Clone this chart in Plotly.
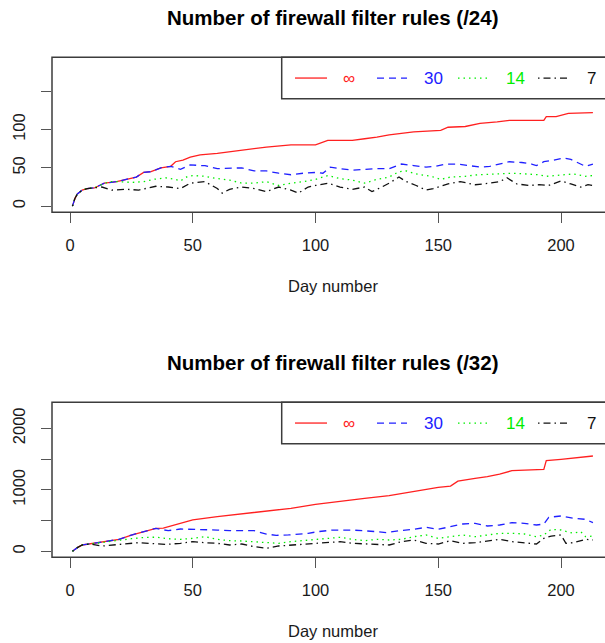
import plotly.graph_objects as go

# ---- data (day number, rule count) ----
# /24 filter rules
days24_inf = [1, 2, 3, 5, 7, 10, 12, 14, 19, 23, 27, 30, 33, 37, 41, 43, 46, 49, 53, 60, 70, 80, 90, 100, 105,
              115, 120, 125, 130, 135, 140, 151, 154, 161, 167, 174, 179, 193, 194, 198, 203, 213]
rules24_inf = [0, 10, 16, 21, 23, 24, 27, 30, 32, 35, 38, 44, 45, 50, 52, 58, 60, 64, 67, 69, 73, 77, 80, 80, 86,
               86, 88, 90, 93, 95, 97, 99, 103, 104, 108, 110, 112, 112, 117, 117, 121, 122]

days24_30 = [1, 2, 3, 5, 7, 10, 12, 14, 19, 23, 27, 30, 33, 37, 41, 45, 49, 53, 55, 60, 70, 75, 80, 85, 90, 95,
             100, 103, 106, 110, 115, 120, 125, 130, 135, 140, 145, 149, 153, 158, 163, 167, 171, 175, 179, 184,
             188, 190, 193, 197, 201, 204, 208, 210, 213]
rules24_30 = [0, 10, 16, 21, 23, 24, 27, 30, 32, 35, 38, 44, 45, 50, 52, 48, 54, 53, 53, 49, 50, 46, 46, 43, 41, 43,
              44, 43, 51, 49, 47, 48, 49, 49, 55, 53, 51, 52, 55, 55, 53, 51, 52, 55, 58, 57,
              55, 53, 58, 60, 63, 61, 55, 52, 55]

days24_14 = [1, 2, 3, 5, 7, 10, 12, 14, 16, 20, 25, 30, 34, 39, 43, 45, 48, 50, 55, 60, 65, 70, 75, 80, 85, 90,
             95, 100, 105, 110, 115, 120, 125, 130, 134, 137, 141, 147, 151, 155, 161, 166, 172, 176, 180, 186,
             191, 194, 200, 205, 210, 213]
rules24_14 = [0, 10, 16, 21, 23, 24, 27, 30, 32, 32, 31, 32, 35, 37, 35, 33, 39, 40, 39, 36, 34, 30, 30, 32, 27, 30,
              32, 35, 40, 36, 34, 30, 35, 38, 45, 46, 42, 39, 35, 38, 39, 41, 42, 42, 43, 42,
              41, 39, 41, 42, 39, 40]

days24_7 = [1, 2, 3, 5, 7, 10, 13, 17, 23, 28, 35, 40, 45, 49, 53, 55, 60, 62, 65, 70, 75, 80, 85, 90, 93, 97,
            100, 105, 110, 115, 120, 123, 127, 130, 134, 137, 141, 145, 148, 154, 159, 165, 171, 175, 178, 182,
            187, 191, 195, 200, 204, 208, 211, 213]
rules24_7 = [0, 10, 16, 21, 23, 24, 25, 21, 22, 21, 26, 25, 23, 30, 31, 32, 23, 17, 22, 25, 23, 19, 25, 21, 17, 25,
             27, 30, 25, 22, 25, 19, 25, 30, 38, 32, 27, 21, 23, 29, 32, 28, 30, 32, 37, 29,
             27, 28, 27, 33, 29, 25, 28, 27]

# /32 filter rules
days32_inf = [1, 3, 5, 10, 15, 20, 25, 30, 35, 38, 40, 45, 50, 60, 70, 80, 90, 100, 110, 120, 130, 140, 150,
              155, 158, 165, 170, 175, 180, 193, 194, 200, 213]
rules32_inf = [0, 60, 103, 130, 157, 195, 265, 320, 374, 378, 401, 455, 510, 564, 607, 656, 700, 764, 818, 862,
               905, 970, 1040, 1060, 1140, 1187, 1214, 1257, 1311, 1333, 1474, 1496, 1550]

days32_30 = [1, 3, 5, 10, 15, 20, 25, 30, 35, 38, 40, 45, 50, 55, 60, 65, 70, 75, 80, 84, 89, 97, 101, 107, 115,
             120, 125, 129, 134, 140, 145, 150, 155, 160, 165, 170, 175, 180, 185, 190, 193, 195, 200, 205,
             210, 213]
rules32_30 = [0, 60, 103, 130, 157, 195, 265, 320, 374, 350, 336, 363, 360, 346, 346, 336, 340, 336, 280, 260, 266,
              293, 320, 346, 346, 336, 320, 304, 336, 358, 390, 358, 401, 444, 455, 412, 428, 466, 455, 428,
              444, 553, 575, 537, 520, 466]

days32_14 = [1, 3, 5, 10, 15, 20, 25, 30, 35, 40, 45, 50, 55, 60, 65, 70, 75, 80, 85, 90, 95, 100, 105, 110, 115,
             120, 125, 130, 135, 140, 145, 150, 155, 160, 165, 170, 175, 180, 185, 190, 193, 196, 200, 205,
             208, 210, 213]
rules32_14 = [0, 60, 103, 130, 157, 185, 205, 225, 230, 205, 195, 211, 238, 195, 173, 168, 157, 141, 130, 157, 173,
              195, 211, 228, 195, 173, 195, 184, 195, 238, 266, 211, 238, 266, 238, 266, 293, 293, 282, 238,
              266, 358, 347, 293, 320, 238, 249]

days32_7 = [1, 3, 5, 8, 13, 20, 28, 34, 39, 45, 50, 55, 60, 65, 70, 75, 80, 85, 90, 95, 100, 105, 110, 115, 120,
            125, 130, 135, 140, 145, 150, 155, 160, 165, 170, 175, 180, 185, 190, 193, 196, 200, 202, 205,
            210, 213]
rules32_7 = [0, 60, 103, 119, 86, 110, 141, 125, 113, 130, 157, 141, 130, 103, 119, 76, 49, 87, 103, 119, 130,
             141, 157, 130, 119, 103, 103, 157, 184, 130, 119, 173, 130, 141, 173, 195, 157, 141, 119, 211,
             249, 266, 130, 141, 195, 184]

series_names = ['\u221e', '30', '14', '7']
series_colors = ['#FF2020', '#2020FF', '#00EE00', '#111111']
series_dashes = ['solid', '7px,5px', '1.5px,4px', '1.5px,4px,7px,4px']

x_ticks = [0, 50, 100, 150, 200]
y24_ticks = [0, 50, 100, 150]
y24_text = ['0', '50', '100', '']
y32_ticks = [0, 500, 1000, 1500, 2000]
y32_text = ['0', '', '1000', '', '2000']

panels = [
    {'title': 'Number of firewall filter rules (/24)',
     'series': [(days24_inf, rules24_inf), (days24_30, rules24_30), (days24_14, rules24_14), (days24_7, rules24_7)],
     'yrange': [-8, 194.3], 'yticks': y24_ticks, 'ytext': y24_text, 'top': 57.3, 'bottom': 212.3},
    {'title': 'Number of firewall filter rules (/32)',
     'series': [(days32_inf, rules32_inf), (days32_30, rules32_30), (days32_14, rules32_14), (days32_7, rules32_7)],
     'yrange': [-97, 2423], 'yticks': y32_ticks, 'ytext': y32_text, 'top': 402.3, 'bottom': 557.3},
]

W, H = 605, 643
FONT = 'Liberation Sans, Arial, sans-serif'
FRAME = '#3c3c3c'


def px(x):
    return x / W


def py(y):
    return 1 - y / H


fig = go.Figure()
shapes = []
annotations = []

for i, p in enumerate(panels):
    n = '' if i == 0 else str(i + 1)
    for (days, vals), name, col, dash in zip(p['series'], series_names, series_colors, series_dashes):
        fig.add_trace(go.Scatter(x=days, y=vals, mode='lines', name=name, showlegend=False,
                                 line=dict(color=col, width=1.3, dash=dash),
                                 xaxis='x' + n, yaxis='y' + n))

    axis_common = dict(showgrid=False, zeroline=False, showline=False, ticks='outside', ticklen=10,
                       tickwidth=1.3, tickcolor='#555555', tickfont=dict(family=FONT, size=16.5, color='#1a1a1a'))
    fig.update_layout(**{
        'xaxis' + n: dict(domain=[px(52), 1], range=[-7.33, 217.92], tickvals=x_ticks,
                          anchor='y' + n, ticklabelstandoff=8, **axis_common),
        'yaxis' + n: dict(domain=[py(p['bottom']), py(p['top'])], range=p['yrange'], tickvals=p['yticks'],
                          ticktext=p['ytext'], tickangle=-90, anchor='x' + n, ticklabelstandoff=9,
                          **axis_common),
    })

    # plot frame (right side falls outside the page, as in the original)
    shapes.append(dict(type='rect', xref='paper', yref='paper', x0=px(52), x1=px(640),
                       y0=py(p['bottom']), y1=py(p['top']), line=dict(color=FRAME, width=1.5)))

    # legend box
    lt, lb = p['top'], p['top'] + 41.5
    shapes.append(dict(type='rect', xref='paper', yref='paper', x0=px(281.7), x1=px(640),
                       y0=py(lb), y1=py(lt), line=dict(color=FRAME, width=1.5)))
    ly = (lt + lb) / 2
    for (x0, x1, xt), name, col, dash in zip([(295, 327, 349), (377, 407, 433), (458, 490, 515), (538, 568, 591)],
                                             series_names, series_colors, series_dashes):
        shapes.append(dict(type='line', xref='paper', yref='paper', x0=px(x0), x1=px(x1), y0=py(ly), y1=py(ly),
                           line=dict(color=col, width=1.3, dash=dash)))
        annotations.append(dict(text=name, xref='paper', yref='paper', x=px(xt), y=py(ly), showarrow=False,
                                xanchor='center', yanchor='middle',
                                font=dict(family=FONT, size=17, color=col)))

    # titles
    annotations.append(dict(text='<b>' + p['title'] + '</b>', xref='paper', yref='paper', x=px(333),
                            y=py(p['top'] - 40), showarrow=False, xanchor='center', yanchor='middle',
                            font=dict(family=FONT, size=20.5, color='#000000')))
    annotations.append(dict(text='Day number', xref='paper', yref='paper', x=px(333),
                            y=py(p['bottom'] + 74), showarrow=False, xanchor='center', yanchor='middle',
                            font=dict(family=FONT, size=16.5, color='#1a1a1a')))

fig.update_layout(width=W, height=H, autosize=False, margin=dict(l=0, r=0, t=0, b=0),
                  paper_bgcolor='white', plot_bgcolor='white', shapes=shapes, annotations=annotations)

# the page body has a default 8px margin; drop it so the figure sits at the window corner
fig.write_html('out.html', config={'displayModeBar': False},
               post_script="document.body.style.margin='0px';document.body.style.overflow='hidden';")
